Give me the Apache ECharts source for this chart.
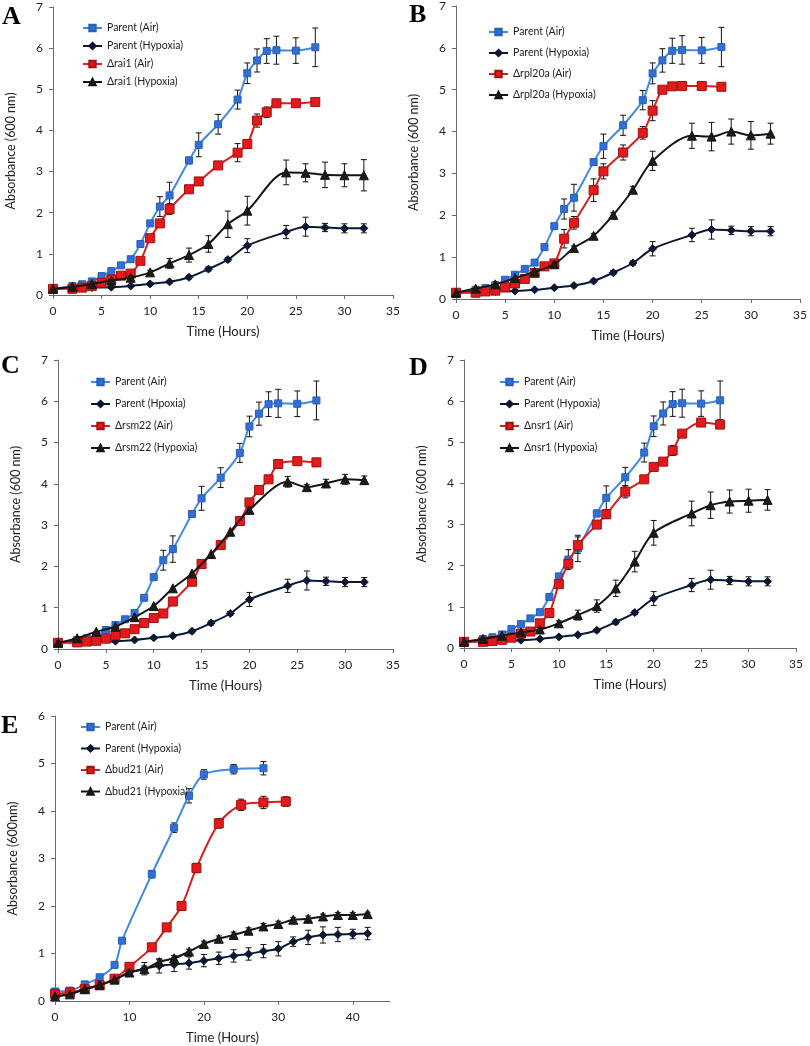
<!DOCTYPE html>
<html>
<head>
<meta charset="utf-8">
<script src="https://cdn.jsdelivr.net/npm/echarts@6/dist/echarts.min.js"></script>
<style>
  html, body { margin: 0; padding: 0; background: #fff; }
  #chart { width: 810px; height: 1046px; }
</style>
</head>
<body>
<div id="chart"></div>
<script>
// parent strain (same control curves in A-D)
const pAirT = [0,2,3,4,5,6,7,8,9,10,11,12,14,15,17,19,20,21,22,23,25,27];
const pAirV = [0.15,0.22,0.26,0.33,0.46,0.58,0.72,0.87,1.24,1.74,2.15,2.42,3.27,3.65,4.15,4.75,5.39,5.70,5.93,5.95,5.94,6.02];
const pAirE = [0,0,0,0,0,0.03,0.04,0.05,0.05,0.05,0.24,0.32,0.08,0.29,0.24,0.23,0.25,0.28,0.30,0.34,0.31,0.47];
const pHypT = [0,2,4,6,8,10,12,14,16,18,20,24,26,28,30,32];
const pHypV = [0.15,0.17,0.18,0.19,0.22,0.27,0.32,0.43,0.63,0.86,1.20,1.53,1.66,1.64,1.62,1.62];
const pHypE = [0,0,0,0,0,0.03,0.03,0.04,0.05,0.05,0.17,0.16,0.23,0.10,0.11,0.11];

// A: rai1
const raiAirT = [0,2,3,4,5,6,7,8,9,10,11,12,14,15,17,19,20,21,22,23,25,27];
const raiAirV = [0.15,0.15,0.18,0.22,0.30,0.38,0.47,0.52,0.83,1.38,1.74,2.09,2.57,2.76,3.15,3.46,3.67,4.24,4.44,4.66,4.66,4.69];
const raiAirE = [0,0,0,0,0,0,0,0,0.04,0.05,0.06,0.13,0.05,0.05,0.05,0.22,0.05,0.16,0.13,0.05,0.05,0.05];
const raiHypT = [0,2,4,6,8,10,12,14,16,18,20,24,26,28,30,32];
const raiHypV = [0.15,0.20,0.27,0.35,0.42,0.55,0.77,0.97,1.24,1.72,2.05,2.98,2.97,2.92,2.91,2.91];
const raiHypE = [0,0,0,0.03,0.04,0.05,0.12,0.17,0.20,0.32,0.35,0.30,0.22,0.31,0.28,0.38];

// B: rpl20a
const rplAirT = [0,2,3,4,5,6,7,8,9,10,11,12,14,15,17,19,20,21,22,23,25,27];
const rplAirV = [0.15,0.15,0.18,0.20,0.28,0.37,0.48,0.62,0.78,0.85,1.44,1.82,2.60,3.05,3.50,3.97,4.50,5.00,5.08,5.09,5.09,5.07];
const rplAirE = [0,0,0,0,0,0,0,0.04,0.06,0.06,0.22,0.15,0.27,0.18,0.18,0.15,0.24,0.05,0.05,0.05,0.05,0.05];
const rplHypT = [0,2,4,6,8,10,12,14,16,18,20,24,26,28,30,32];
const rplHypV = [0.15,0.25,0.35,0.50,0.65,0.83,1.22,1.51,2.01,2.61,3.30,3.90,3.88,4.00,3.91,3.95];
const rplHypE = [0,0,0,0,0.04,0.05,0.05,0.05,0.05,0.08,0.23,0.30,0.34,0.30,0.33,0.25];

// C: rsm22
const rsmAirT = [0,2,3,4,5,6,7,8,9,10,11,12,14,15,17,19,20,21,22,23,25,27];
const rsmAirV = [0.15,0.16,0.18,0.20,0.25,0.33,0.38,0.48,0.63,0.75,0.86,1.15,1.63,2.06,2.52,3.10,3.55,3.85,4.11,4.48,4.55,4.52];
const rsmAirE = [0,0,0,0,0,0,0,0,0,0.04,0.05,0.10,0.06,0.05,0.05,0.10,0.06,0.10,0.07,0.06,0.05,0.10];
const rsmHypT = [0,2,4,6,8,10,12,14,16,18,20,24,26,28,30,32];
const rsmHypV = [0.15,0.26,0.42,0.54,0.77,1.04,1.47,1.83,2.30,2.84,3.37,4.05,3.92,4.01,4.11,4.09];
const rsmHypE = [0,0,0,0,0,0,0,0,0,0,0.05,0.13,0.06,0.10,0.12,0.10];

// D: nsr1
const nsrAirT = [0,2,3,4,5,6,7,8,9,10,11,12,14,15,17,19,20,21,22,23,25,27];
const nsrAirV = [0.15,0.15,0.17,0.20,0.25,0.35,0.40,0.60,0.85,1.55,2.05,2.50,3.00,3.25,3.80,4.10,4.40,4.53,4.80,5.21,5.48,5.43];
const nsrAirE = [0,0,0,0,0,0,0,0.04,0.05,0.06,0.10,0.20,0.06,0.10,0.15,0.05,0.05,0.05,0.12,0.06,0.08,0.06];
const nsrHypT = [0,2,4,6,8,10,12,14,16,18,20,24,26,28,30,32];
const nsrHypV = [0.15,0.22,0.30,0.38,0.45,0.60,0.80,1.02,1.45,2.10,2.80,3.27,3.47,3.56,3.58,3.60];
const nsrHypE = [0,0,0,0,0.04,0.06,0.12,0.15,0.20,0.25,0.30,0.30,0.32,0.28,0.28,0.25];

// E: bud21 (own parent run)
const ePAirT = [0,2,4,6,8,9,13,16,18,20,24,28];
const ePAirV = [0.20,0.22,0.35,0.50,0.76,1.27,2.67,3.65,4.32,4.77,4.88,4.90];
const ePAirE = [0,0,0,0,0.04,0.05,0.08,0.10,0.15,0.10,0.10,0.14];
const ePHypT = [0,2,4,6,8,10,12,14,16,18,20,22,24,26,28,30,32,34,36,38,40,42];
const ePHypV = [0.10,0.15,0.25,0.33,0.45,0.60,0.68,0.74,0.77,0.80,0.85,0.90,0.95,0.99,1.05,1.10,1.25,1.34,1.39,1.40,1.41,1.42];
const ePHypE = [0,0,0,0,0.03,0.08,0.13,0.15,0.15,0.13,0.13,0.13,0.13,0.13,0.14,0.15,0.10,0.15,0.17,0.15,0.10,0.13];
const budAirT = [0,2,4,6,8,10,13,15,17,19,22,25,28,31];
const budAirV = [0.15,0.18,0.25,0.33,0.47,0.72,1.13,1.55,2.00,2.80,3.74,4.13,4.18,4.20];
const budAirE = [0,0,0,0,0,0.04,0.05,0.07,0.07,0.10,0.10,0.12,0.13,0.10];
const budHypT = [0,2,4,6,8,10,12,14,16,18,20,22,24,26,28,30,32,34,36,38,40,42];
const budHypV = [0.10,0.14,0.25,0.34,0.45,0.60,0.67,0.82,0.90,1.04,1.20,1.31,1.39,1.48,1.57,1.62,1.71,1.73,1.78,1.81,1.81,1.83];
const budHypE = [0,0,0,0,0,0.05,0.07,0.05,0.06,0.05,0.06,0.06,0.06,0.06,0.06,0.06,0.05,0.06,0.05,0.05,0.05,0.04];

const FONT = 'Lato, "DejaVu Sans", sans-serif';

// one look per curve slot: parent air, parent hypoxia, mutant air, mutant hypoxia
const looks = [
  { symbol: 'rect', size: 7, color: '#2f6fd6', line: '#4289e0', border: '#2a5fb8' },
  { symbol: 'diamond', size: 8, color: '#0b1733', line: '#0b1733', border: '#0b1733' },
  { symbol: 'rect', size: 9, color: '#e3191b', line: '#d62020', border: '#9e1212' },
  { symbol: 'triangle', size: 9, color: '#1c1c12', line: '#141414', border: '#141414' }
];

const panels = [
  { letter: 'A', lx: 2, ly: 4, grid: { left: 53, top: 7, width: 340, height: 288 }, xMax: 35, xInt: 5, yMax: 7,
    yName: 'Absorbance (600 nm)', legend: { left: 77, top: 17, gap: 6 },
    names: ['Parent (Air)', 'Parent (Hypoxia)', 'Δrai1 (Air)', 'Δrai1 (Hypoxia)'],
    sets: [[pAirT, pAirV, pAirE], [pHypT, pHypV, pHypE], [raiAirT, raiAirV, raiAirE], [raiHypT, raiHypV, raiHypE]] },
  { letter: 'B', lx: 409, ly: 2, grid: { left: 456, top: 5, width: 348, height: 294 }, xMax: 35, xInt: 5, yMax: 7,
    yName: 'Absorbance (600 nm)', legend: { left: 483, top: 21, gap: 9 },
    names: ['Parent (Air)', 'Parent (Hypoxia)', 'Δrpl20a (Air)', 'Δrpl20a (Hypoxia)'],
    sets: [[pAirT, pAirV, pAirE], [pHypT, pHypV, pHypE], [rplAirT, rplAirV, rplAirE], [rplHypT, rplHypV, rplHypE]] },
  { letter: 'C', lx: 1, ly: 353, grid: { left: 58, top: 360, width: 335, height: 289 }, xMax: 35, xInt: 5, yMax: 7,
    yName: 'Absorbance (600 nm)', legend: { left: 85, top: 371, gap: 10 },
    names: ['Parent (Air)', 'Parent (Hpoxia)', 'Δrsm22 (Air)', 'Δrsm22 (Hypoxia)'],
    sets: [[pAirT, pAirV, pAirE], [pHypT, pHypV, pHypE], [rsmAirT, rsmAirV, rsmAirE], [rsmHypT, rsmHypV, rsmHypE]] },
  { letter: 'D', lx: 409, ly: 355, grid: { left: 464, top: 360, width: 332, height: 288 }, xMax: 35, xInt: 5, yMax: 7,
    yName: 'Absorbance (600 nm)', legend: { left: 494, top: 371, gap: 10 },
    names: ['Parent (Air)', 'Parent (Hypoxia)', 'Δnsr1 (Air)', 'Δnsr1 (Hypoxia)'],
    sets: [[pAirT, pAirV, pAirE], [pHypT, pHypV, pHypE], [nsrAirT, nsrAirV, nsrAirE], [nsrHypT, nsrHypV, nsrHypE]] },
  { letter: 'E', lx: 1, ly: 713, grid: { left: 55, top: 716, width: 335, height: 285 }, xMax: 45, xInt: 10, yMax: 6,
    yName: 'Absorbance (600nm)', legend: { left: 75, top: 716, gap: 9.5 },
    names: ['Parent (Air)', 'Parent (Hypoxia)', 'Δbud21 (Air)', 'Δbud21 (Hypoxia)'],
    sets: [[ePAirT, ePAirV, ePAirE], [ePHypT, ePHypV, ePHypE], [budAirT, budAirV, budAirE], [budHypT, budHypV, budHypE]] }
];

function errorBars(params, api) {
  const e = api.value(2);
  if (!e) return;
  const x = api.value(0), y = api.value(1);
  const hi = api.coord([x, y + e]);
  const lo = api.coord([x, y - e]);
  const st = { stroke: '#111', lineWidth: 1 };
  return {
    type: 'group',
    children: [
      { type: 'line', shape: { x1: hi[0], y1: hi[1], x2: lo[0], y2: lo[1] }, style: st },
      { type: 'line', shape: { x1: hi[0] - 3, y1: hi[1], x2: hi[0] + 3, y2: hi[1] }, style: st },
      { type: 'line', shape: { x1: lo[0] - 3, y1: lo[1], x2: lo[0] + 3, y2: lo[1] }, style: st }
    ]
  };
}

const axisLineStyle = { color: '#6b6b6b', width: 1 };
const grid = [], xAxis = [], yAxis = [], legend = [], series = [], graphic = [];

panels.forEach((p, gi) => {
  grid.push(p.grid);
  xAxis.push({
    type: 'value', gridIndex: gi, min: 0, max: p.xMax, interval: p.xInt,
    name: 'Time (Hours)', nameLocation: 'middle', nameGap: 30,
    nameTextStyle: { fontFamily: FONT, fontSize: 13, color: '#222' },
    axisLine: { lineStyle: axisLineStyle },
    axisTick: { show: true, length: 4, lineStyle: axisLineStyle },
    axisLabel: { fontFamily: FONT, fontSize: 12, color: '#222', margin: 10, showMaxLabel: p.xMax === 35 },
    splitLine: { show: false }
  });
  yAxis.push({
    type: 'value', gridIndex: gi, min: 0, max: p.yMax, interval: 1,
    name: p.yName, nameLocation: 'middle', nameGap: 36,
    nameTextStyle: { fontFamily: FONT, fontSize: 12.5, color: '#222' },
    axisLine: { show: true, lineStyle: axisLineStyle },
    axisTick: { show: true, length: 4, lineStyle: axisLineStyle },
    axisLabel: { fontFamily: FONT, fontSize: 12, color: '#222', margin: 10 },
    splitLine: { show: false }
  });
  legend.push({
    orient: 'vertical', left: p.legend.left, top: p.legend.top, itemGap: p.legend.gap,
    itemWidth: 19, itemHeight: 8, data: p.names, selectedMode: false,
    textStyle: { fontFamily: FONT, fontSize: 10.5, color: '#222', lineHeight: 12 }
  });
  p.sets.forEach((s, si) => {
    const lk = looks[si];
    // bars sit under the markers so tiny ones hide behind them
    series.push({
      type: 'custom', name: 'err' + gi + '_' + si, xAxisIndex: gi, yAxisIndex: gi,
      data: s[0].map((t, i) => [t, s[1][i], s[2][i]]),
      encode: { x: 0, y: 1 }, renderItem: errorBars, z: 2 + si, silent: true
    });
    series.push({
      type: 'line', name: p.names[si], xAxisIndex: gi, yAxisIndex: gi,
      data: s[0].map((t, i) => [t, s[1][i]]),
      smooth: 0.3, symbol: lk.symbol, symbolSize: lk.size, showAllSymbol: true,
      lineStyle: { color: lk.line, width: 2 },
      itemStyle: { color: lk.color, borderColor: lk.border, borderWidth: 1 },
      z: 2 + si
    });
  });
  graphic.push({
    type: 'text', left: p.lx, top: p.ly,
    style: { text: p.letter, font: 'bold 26px "Liberation Serif", serif', fill: '#000' }
  });
});

const chart = echarts.init(document.getElementById('chart'));
chart.setOption({
  animation: false,
  backgroundColor: '#fff',
  grid, xAxis, yAxis, legend, series, graphic
});
</script>
</body>
</html>
